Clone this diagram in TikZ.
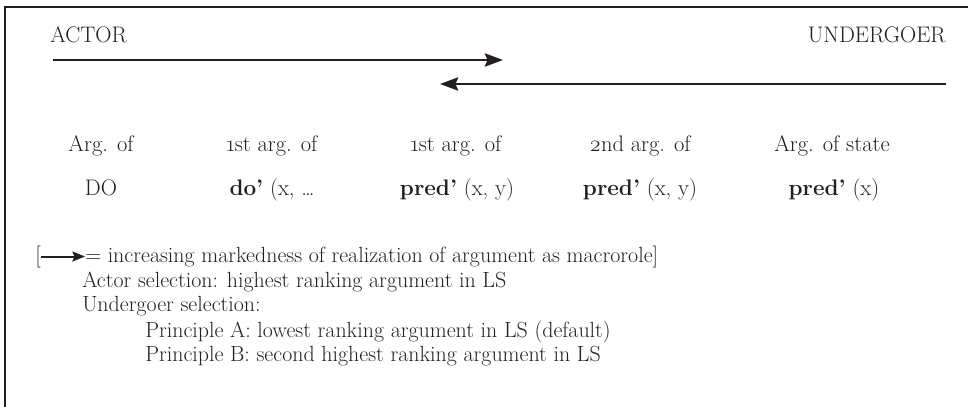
\documentclass[tikz,border=0pt]{standalone}
\usepackage{fontspec}
\setmainfont{Latin Modern Roman}[Numbers=OldStyle]
\usetikzlibrary{arrows.meta,positioning}
\definecolor{Ink}{HTML}{231F20}
\tikzset{
  role/.style={font=\fontsize{16}{19}\selectfont, text=Ink, inner sep=0pt},
  argcell/.style={font=\fontsize{16}{19}\selectfont, text=Ink, inner sep=0pt, anchor=base},
  noteline/.style={font=\fontsize{15.6}{19}\selectfont, text=Ink, inner sep=0pt, anchor=base west},
  frame/.style={draw=Ink, line width=1pt},
  hierarchy/.style={-{Stealth[length=13pt,width=9.5pt,inset=2pt]}, line width=1.4pt, draw=Ink},
  legendarrow/.style={-{Stealth[length=9pt,width=7pt,inset=1.5pt]}, line width=1.4pt, draw=Ink}
}
\begin{document}
\begin{tikzpicture}[x=0.025cm,y=-0.025cm]
  \useasboundingbox (0,0) rectangle (968,407);
  \draw[frame] (5,407) |- (968,7);
  % macrorole ends of the hierarchy
  \node[role,anchor=base west] (actor) at (50,43) {ACTOR};
  \node[role,anchor=base east] (undergoer) at (946,43) {UNDERGOER};
  \coordinate (actorstart) at (53,60);
  \coordinate (actorend) at (503,60);
  \coordinate (ugstart) at (946,84);
  \coordinate (ugend) at (440,84);
  \draw[hierarchy] (actorstart) -- (actorend);
  \draw[hierarchy] (ugstart) -- (ugend);
  % argument positions
  \node[argcell] (argdo) at (101,152) {Arg. of};
  \node[argcell] (argfirstdo) at (272,152) {1st arg. of};
  \node[argcell] (argfirstpred) at (456,152) {1st arg. of};
  \node[argcell] (argsecondpred) at (640,152) {2nd arg. of};
  \node[argcell] (argstate) at (832,152) {Arg. of state};
  \node[argcell] (lsdo) at (101,195) {DO};
  \node[argcell] (lsfirstdo) at (272,195) {\textbf{do'} (x, \dots};
  \node[argcell] (lsfirstpred) at (457,195) {\textbf{pred'} (x, y)};
  \node[argcell] (lssecondpred) at (640,195) {\textbf{pred'} (x, y)};
  \node[argcell] (lsstate) at (834,195) {\textbf{pred'} (x)};
  % legend and selection principles
  \node[noteline] (lbrk) at (35,262) {[};
  \node[noteline,right=11mm of lbrk.base east,anchor=base west] (legend) {= increasing markedness of realization of argument as macrorole]};
  \draw[legendarrow] (lbrk.east) -- (lbrk.east -| legend.west);
  \node[noteline] (actorsel) at (82,287) {Actor selection: highest ranking argument in LS};
  \node[noteline] (ugsel) at (82,311) {Undergoer selection:};
  \node[noteline] (principlea) at (145,337) {Principle A: lowest ranking argument in LS (default)};
  \node[noteline] (principleb) at (145,361) {Principle B: second highest ranking argument in LS};
\end{tikzpicture}
\end{document}
